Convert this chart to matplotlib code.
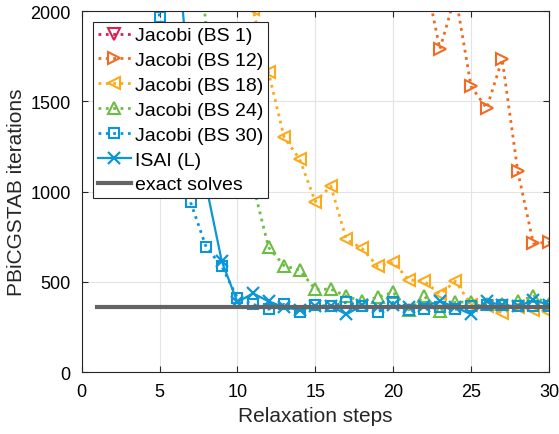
import numpy as np
import matplotlib
matplotlib.use('Agg')
import matplotlib.pyplot as plt

plt.rcParams['font.family'] = ['Liberation Sans', 'DejaVu Sans']

steps = np.arange(1, 31)

# values (points above 2000 are off the chart)
bs1 = [9800, 9400, 9100, 8800, 8500, 8200, 7900, 7600, 7300, 7000,
       6700, 6400, 6100, 5800, 5500, 5200, 4900, 4600, 4300, 4000,
       3800, 3600, 3400, 3200, 3000, 2900, 2800, 2700, 2600, 2500]
bs12 = [9000, 8600, 8200, 7800, 7400, 7000, 6600, 6200, 5800, 5400,
        5000, 4700, 4400, 4100, 3800, 3500, 3200, 3000, 2800, 2600,
        2400, 2210, 1790, 2090, 1584, 1462, 1733, 1113, 714, 720]
bs18 = [7000, 6500, 6000, 5500, 5000, 4500, 4000, 3500, 3000, 2500,
        2010, 1661, 1301, 1180, 945, 1030, 736, 686, 587, 609,
        512, 504, 432, 504, 375, 365, 330, 360, 345, 335]
bs24 = [6000, 5400, 4800, 4200, 3700, 3300, 2900, 1900, 1500, 1250,
        1040, 692, 590, 565, 460, 460, 421, 393, 415, 443,
        345, 421, 338, 388, 388, 376, 376, 393, 421, 376]
bs30 = [5000, 4200, 3400, 2600, 1970, 1450, 941, 692, 587, 410,
        376, 349, 376, 332, 371, 365, 387, 365, 332, 387,
        343, 349, 360, 349, 365, 371, 371, 365, 365, 365]
isai = [4500, 4000, 3500, 3000, 2700, 2500, 1500, 1030, 614, 388,
        437, 393, 360, 345, 365, 365, 321, 370, 360, 370,
        360, 365, 393, 360, 321, 393, 370, 365, 398, 375]
exact_x = [1, 30]
exact_y = [360, 360]

labels = ['Jacobi (BS 1)', 'Jacobi (BS 12)', 'Jacobi (BS 18)',
          'Jacobi (BS 24)', 'Jacobi (BS 30)', 'ISAI (L)', 'exact solves']
colors = ['#DC1E50', '#F26A21', '#FDAA1A', '#6DBD45', '#0B96D8', '#0B96D8', '#646464']

fig = plt.figure(figsize=(5.59, 4.35), dpi=100)
ax = fig.add_axes([0.146, 0.142, 0.836, 0.830])

mk = dict(markersize=8, markeredgewidth=1.5, fillstyle='none')
ax.plot(steps, bs1, ':', color=colors[0], marker='v', lw=2, label=labels[0], **mk)
ax.plot(steps, bs12, ':', color=colors[1], marker='>', lw=2, label=labels[1], **mk)
ax.plot(steps, bs18, ':', color=colors[2], marker='<', lw=2, label=labels[2], **mk)
ax.plot(steps, bs24, ':', color=colors[3], marker='^', lw=2, label=labels[3], **mk)
ax.plot(steps, bs30, ':', color=colors[4], marker='s', lw=2, label=labels[4],
        markersize=7, markeredgewidth=1.5, fillstyle='none')
ax.plot(steps, isai, '-', color=colors[5], marker='x', lw=1.6, label=labels[5],
        markersize=9, markeredgewidth=1.6)
ax.plot(exact_x, exact_y, '-', color=colors[6], lw=3, label=labels[6])

ax.set_xlim(0, 30)
ax.set_ylim(0, 2000)
ax.set_xticks([0, 5, 10, 15, 20, 25, 30])
ax.set_yticks([0, 500, 1000, 1500, 2000])
ax.grid(True, color='#E3E3E3', lw=0.8)
ax.set_axisbelow(True)
ax.tick_params(direction='in', top=True, right=True, labelsize=13,
               length=4, color='#262626', pad=8)
for s in ax.spines.values():
    s.set_color('#262626')
    s.set_linewidth(0.8)

ax.set_xlabel('Relaxation steps', fontsize=15, color='#262626', labelpad=4)
ax.set_ylabel('PBiCGSTAB iterations', fontsize=15, color='#262626', labelpad=3)

leg = ax.legend(loc='upper left', bbox_to_anchor=(0.024, 0.970), borderaxespad=0,
                fontsize=14, fancybox=False, framealpha=1, edgecolor='#262626',
                handlelength=1.7, labelspacing=0.37, handletextpad=0.2,
                borderpad=0.25)
leg.get_frame().set_linewidth(0.8)

fig.savefig('out.png', dpi=100)
